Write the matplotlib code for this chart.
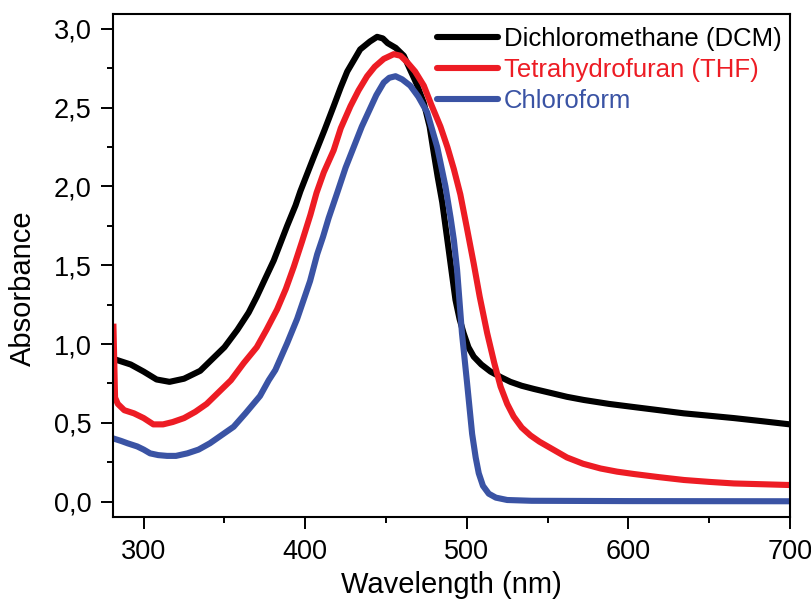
import matplotlib
matplotlib.use("Agg")
import matplotlib.pyplot as plt
from matplotlib.ticker import MultipleLocator, FuncFormatter

plt.rcParams['font.family'] = ['Liberation Sans', 'DejaVu Sans']

# UV-Vis spectra, wavelength (nm) vs absorbance
dcm_wl = [281, 283, 292, 300, 308, 316, 325, 335, 343, 350, 358, 365, 370, 375,
          380.5, 388.8, 394, 397, 405, 412, 417.6, 422, 426, 430, 434, 440, 444.5,
          448, 451, 456, 461, 465, 469, 473.4, 477, 479.6, 482, 484.8, 488.9, 491,
          493, 495.5, 498, 501, 504.3, 509, 514.7, 521, 527, 534, 541.5, 551.8, 562,
          572.4, 588, 603.4, 619, 634.4, 650, 665.3, 683, 700]
dcm_abs = [0.91, 0.90, 0.87, 0.825, 0.775, 0.76, 0.78, 0.83, 0.91, 0.98, 1.09, 1.20,
           1.30, 1.41, 1.53, 1.75, 1.88, 1.97, 2.18, 2.36, 2.51, 2.63, 2.73, 2.80,
           2.87, 2.92, 2.95, 2.94, 2.91, 2.88, 2.83, 2.74, 2.65, 2.53, 2.38, 2.21,
           2.06, 1.90, 1.59, 1.43, 1.28, 1.16, 1.07, 0.98, 0.92, 0.87, 0.825, 0.79,
           0.76, 0.735, 0.715, 0.69, 0.665, 0.645, 0.62, 0.60, 0.58, 0.56, 0.545,
           0.53, 0.51, 0.49]

thf_wl = [281.3, 282.3, 284, 288, 294, 300, 306, 312, 318, 325, 332, 339, 347, 354,
          362, 370, 376, 382.6, 388, 392.9, 398, 403.2, 407, 411.5, 417.6, 422, 428,
          433, 438.3, 443, 448.6, 454.8, 459, 463, 468, 473.4, 478, 483.7, 488, 492,
          496, 500, 504.3, 508, 512.6, 517, 520.9, 525, 529, 534, 539.4, 545, 551.8,
          562, 572, 582.8, 593, 603.4, 619, 634.4, 650, 665.3, 683, 700]
thf_abs = [1.11, 0.66, 0.62, 0.58, 0.56, 0.53, 0.49, 0.49, 0.505, 0.53, 0.57, 0.62,
           0.70, 0.77, 0.88, 0.98, 1.09, 1.22, 1.35, 1.49, 1.65, 1.82, 1.96, 2.09,
           2.23, 2.37, 2.51, 2.61, 2.70, 2.76, 2.81, 2.84, 2.83, 2.79, 2.73, 2.64,
           2.52, 2.38, 2.25, 2.11, 1.95, 1.74, 1.51, 1.30, 1.07, 0.88, 0.73, 0.62,
           0.54, 0.47, 0.42, 0.38, 0.34, 0.28, 0.24, 0.21, 0.19, 0.175, 0.155, 0.137,
           0.125, 0.115, 0.11, 0.105]

chl_wl = [281.4, 286, 290, 296, 300, 304, 309, 314.5, 320, 327, 334, 341, 348, 355.7,
          363, 372, 377.4, 381.5, 388.8, 395, 399, 403, 407.4, 411, 414.5, 419.8, 425,
          430, 435, 440.4, 444, 448.6, 452, 455.9, 460, 465, 470, 475.5, 481.7, 486.8,
          490, 492, 494, 497, 500.2, 503.3, 505.5, 507.4, 510, 513.6, 518, 525, 540,
          600, 700]
chl_abs = [0.40, 0.385, 0.37, 0.35, 0.33, 0.306, 0.295, 0.29, 0.29, 0.306, 0.33,
           0.37, 0.42, 0.475, 0.56, 0.67, 0.77, 0.835, 1.005, 1.16, 1.28, 1.40, 1.57,
           1.68, 1.80, 1.96, 2.12, 2.25, 2.38, 2.50, 2.58, 2.66, 2.69, 2.70, 2.68,
           2.64, 2.57, 2.47, 2.25, 2.00, 1.80, 1.66, 1.47, 1.07, 0.75, 0.43, 0.28,
           0.18, 0.10, 0.05, 0.025, 0.01, 0.005, 0.003, 0.002]

fig = plt.figure(figsize=(8.11, 6.03), dpi=100)
ax = fig.add_axes([0.1393, 0.1426, 0.8347, 0.8342])

lw = 4.4
ax.plot(dcm_wl, dcm_abs, color='black', lw=lw, label='Dichloromethane (DCM)')
ax.plot(thf_wl, thf_abs, color='#ED1C24', lw=lw, label='Tetrahydrofuran (THF)')
ax.plot(chl_wl, chl_abs, color='#3A53A4', lw=lw, label='Chloroform')

ax.set_xlim(281, 700)
ax.set_ylim(-0.098, 3.095)

ax.xaxis.set_major_locator(MultipleLocator(100))
ax.xaxis.set_minor_locator(MultipleLocator(50))
ax.yaxis.set_major_locator(MultipleLocator(0.5))
ax.yaxis.set_minor_locator(MultipleLocator(0.25))
ax.yaxis.set_major_formatter(FuncFormatter(lambda v, p: f"{v:.1f}".replace('.', ',')))

ax.tick_params(which='major', direction='out', length=8.6, width=1.4,
               labelsize=19.5, pad=7)
ax.tick_params(which='minor', direction='out', length=4.3, width=1.4)
ax.tick_params(top=False, right=False)
for s in ax.spines.values():
    s.set_linewidth(1.5)

ax.set_xlabel('Wavelength (nm)', fontsize=21)
ax.set_ylabel('Absorbance', fontsize=21)
ax.xaxis.set_label_coords(0.5, -0.108)
ax.yaxis.set_label_coords(-0.112, 0.455)

leg = ax.legend(loc='upper right', bbox_to_anchor=(1.007, 1.0), frameon=False,
                fontsize=18.5, handlelength=2.35, handletextpad=0.25,
                labelspacing=0.28, borderaxespad=0.3, borderpad=0.2)
for txt, line in zip(leg.get_texts(), leg.get_lines()):
    txt.set_color(line.get_color())
    line.set_linewidth(lw)
    line.set_solid_capstyle('round')

fig.savefig('out.png', dpi=100)
